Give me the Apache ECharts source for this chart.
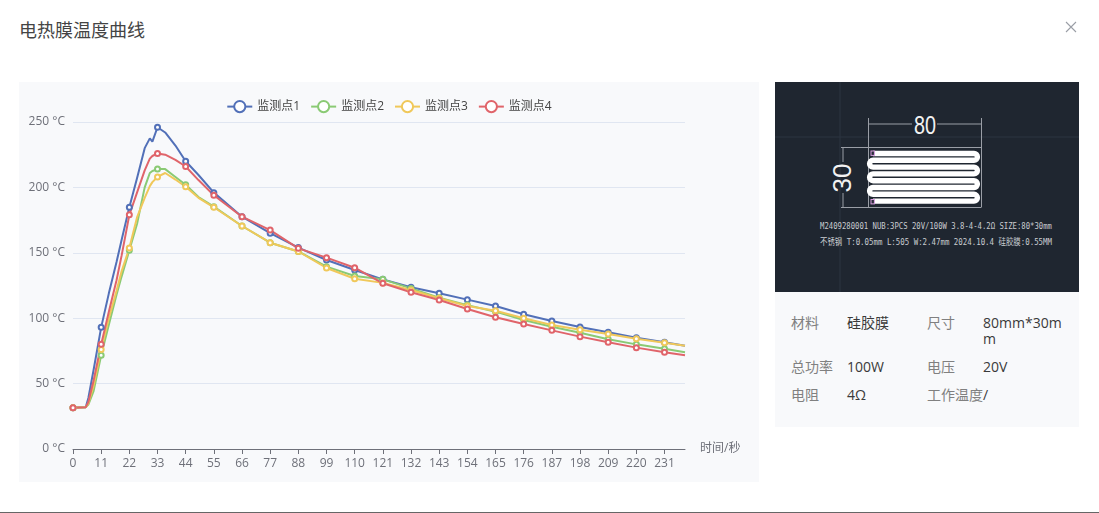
<!DOCTYPE html>
<html lang="zh">
<head>
<meta charset="utf-8">
<title>电热膜温度曲线</title>
<script src="https://cdn.jsdelivr.net/npm/echarts@6/dist/echarts.min.js"></script>
<style>
  html, body { margin: 0; padding: 0; background: #fff; }
  body { position: relative; width: 1099px; height: 513px; overflow: hidden;
         font-family: "Open Sans", "Noto Sans CJK SC", sans-serif; }
  .abs { position: absolute; }
  #heading { left: 19px; top: 18px; font-size: 18px; line-height: 24px; color: #444; }
  #close { left: 1064px; top: 20px; width: 14px; height: 14px; }
  #chartPanel { left: 19px; top: 82px; width: 740px; height: 400px; background: #f8f9fb; }
  #chart { width: 740px; height: 400px; }
  #drawing { left: 775px; top: 82px; width: 304px; height: 210px; background: #1f2630; display: block; }
  #specs { left: 775px; top: 292px; width: 304px; height: 135px; background: #f8f9fb; font-size: 14px; }
  .spec { position: absolute; line-height: 16px; white-space: nowrap; }
  .key { color: #808080; }
  .val { color: #3a3a3a; }
  #baseline { left: 0; top: 512px; width: 1099px; height: 1px; background: #666; }
</style>
</head>
<body>
<div class="abs" id="heading">电热膜温度曲线</div>
<svg class="abs" id="close" viewBox="0 0 14 14">
  <path d="M2 2 L12 12 M12 2 L2 12" stroke="#9a9ea6" stroke-width="1.1" fill="none"/>
</svg>

<div class="abs" id="chartPanel"><div id="chart"></div></div>

<svg class="abs" id="drawing" viewBox="0 0 304 210">
  <g stroke="#2c3440" stroke-width="1">
    <path d="M65 0 V210 M0 55 H304"/>
  </g>
  <!-- dimension lines -->
  <g stroke="#9a9ea6" stroke-width="1" fill="none">
    <path d="M93.5 36 V125 M206.5 36 V125"/>
    <path d="M93.5 42 H137 M162 42 H206.5"/>
    <path d="M66 65.5 H206.5 M66 125.5 H206.5"/>
    <path d="M68 66 V80 M68 111 V125"/>
  </g>
  <!-- heating track -->
  <path d="M98 71.5 H199 a3.4 3.4 0 0 1 0 6.8 H98 a3.4 3.4 0 0 0 0 6.8 H199 a3.4 3.4 0 0 1 0 6.8 H98 a3.4 3.4 0 0 0 0 6.8 H199 a3.4 3.4 0 0 1 0 6.8 H98 a3.4 3.4 0 0 0 0 6.8 H199 a3.4 3.4 0 0 1 0 6.8 H98"
        stroke="#fff" stroke-width="5.4" fill="none"/>
  <g stroke="#d9a0e0" stroke-width="1" fill="#2a2d3a">
    <rect x="96" y="69" width="3.4" height="4.4"/>
    <rect x="96" y="117.5" width="3.4" height="4.4"/>
  </g>
  <g fill="#f2f2f2" font-family="'Liberation Sans',sans-serif" text-anchor="middle">
    <text x="150" y="52" font-size="26" textLength="22" lengthAdjust="spacingAndGlyphs">80</text>
    <text x="0" y="0" font-size="26" textLength="29" lengthAdjust="spacingAndGlyphs" transform="translate(75.5 96) rotate(-90)">30</text>
  </g>
  <g fill="#c9ccd1" font-family="'DejaVu Sans Mono','Noto Sans CJK SC',monospace" font-size="9">
    <text x="45" y="147" textLength="232" lengthAdjust="spacingAndGlyphs">M2409280001 NUB:3PCS 20V/100W 3.8-4-4.2Ω SIZE:80*30mm</text>
    <text x="45" y="162.5" textLength="232" lengthAdjust="spacingAndGlyphs">不锈钢 T:0.05mm L:505 W:2.47mm 2024.10.4 硅胶膜:0.55MM</text>
  </g>
</svg>

<div class="abs" id="specs">
  <div class="spec key" style="left:16px;top:23px">材料</div>
  <div class="spec val" style="left:72px;top:23px">硅胶膜</div>
  <div class="spec key" style="left:152px;top:23px">尺寸</div>
  <div class="spec val" style="left:208px;top:23px">80mm*30m<br>m</div>
  <div class="spec key" style="left:16px;top:67px">总功率</div>
  <div class="spec val" style="left:72px;top:67px">100W</div>
  <div class="spec key" style="left:152px;top:67px">电压</div>
  <div class="spec val" style="left:208px;top:67px">20V</div>
  <div class="spec key" style="left:16px;top:95px">电阻</div>
  <div class="spec val" style="left:72px;top:95px">4Ω</div>
  <div class="spec key" style="left:152px;top:95px">工作温度</div>
  <div class="spec val" style="left:208px;top:95px">/</div>
</div>
<div class="abs" id="baseline"></div>

<script>
// Sampling times in seconds
const times = [0, 5, 6, 8, 11, 14, 17, 19, 22, 25, 28, 30, 31, 33, 36, 40, 44, 49, 55, 66, 77, 88, 99, 110, 121, 132, 143, 154, 165, 176, 187, 198, 209, 220, 231, 239];

// Temperature of each monitoring point, in °C
const point1 = [31.5, 32, 39, 60, 93, 119, 143, 160, 184.8, 207, 230, 237.5, 235, 246, 242, 232, 220, 209.5, 196, 177.6, 165, 154, 144.5, 136.9, 129.7, 123.6, 119, 114.2, 109.3, 103, 97.9, 93.3, 89.2, 85.1, 81.6, 79];
const point2 = [31.5, 32, 34, 44, 71.6, 95, 118, 132, 152, 172, 200, 211, 212.5, 214, 214, 208, 202, 192.6, 185.3, 170.5, 157.7, 151, 139.4, 132.3, 129.7, 122.8, 115.7, 110, 105, 98.6, 93.5, 88.9, 83.9, 80, 76.7, 74];
const point3 = [31.5, 32, 35, 48, 76, 100, 121, 136, 153.6, 177, 192, 201, 204, 208, 211, 206, 200.5, 192, 184.8, 170.5, 157.7, 151, 138.4, 130.2, 127, 121.6, 115.2, 109.3, 105.7, 99.9, 94.8, 91.2, 87.9, 84.3, 81.3, 79];
const point4 = [31.5, 32, 36, 52, 80, 105, 129, 148, 179, 196, 213, 222, 224, 226, 225, 221, 216, 205.6, 194, 177.6, 167.4, 153.4, 146.3, 138.6, 126.7, 119.8, 113.9, 107, 100.7, 95.6, 90.7, 85.9, 81.6, 77.5, 73.9, 71.6];

const seriesNames = ['监测点1', '监测点2', '监测点3', '监测点4'];
const seriesColors = ['#5270b8', '#8aca74', '#f0c85a', '#e0646a'];
const seriesValues = [point1, point2, point3, point4];

const TICK_STEP = 11;
const LAST_SECOND = 239;
const fontFamily = '"Open Sans", "Noto Sans CJK SC", sans-serif';

const chart = echarts.init(document.getElementById('chart'), null, { renderer: 'canvas' });
chart.setOption({
  animation: false,
  backgroundColor: 'transparent',
  textStyle: { fontFamily },
  color: seriesColors,
  legend: {
    top: 13,
    left: 'center',
    itemWidth: 25,
    itemHeight: 14,
    itemGap: 10,
    textStyle: { color: '#444', fontSize: 12, fontFamily }
  },
  grid: { left: 54, right: 74, top: 40, bottom: 33 },
  xAxis: {
    type: 'value',
    min: 0,
    max: LAST_SECOND,
    interval: TICK_STEP,
    name: '时间/秒',
    nameGap: 15,
    nameTextStyle: { color: '#6e7079', fontSize: 12, fontFamily, verticalAlign: 'middle' },
    axisLine: { show: true, lineStyle: { color: '#6e7079' } },
    axisTick: { show: true, length: 5, lineStyle: { color: '#6e7079' } },
    axisLabel: { color: '#6e7079', fontSize: 12, showMaxLabel: false, margin: 9, hideOverlap: false, fontFamily },
    splitLine: { show: false }
  },
  yAxis: {
    type: 'value',
    min: 0,
    max: 250,
    interval: 50,
    axisLine: { show: false },
    axisTick: { show: false },
    axisLabel: { color: '#6e7079', fontSize: 12, formatter: '{value} °C', margin: 8, padding: [2, 0, 0, 0], fontFamily },
    splitLine: { lineStyle: { color: '#e0e6f1' } }
  },
  series: seriesNames.map((name, i) => ({
    name,
    type: 'line',
    smooth: false,
    showAllSymbol: true,
    symbol: 'emptyCircle',
    symbolSize: (value) => (value[0] % TICK_STEP === 0 ? 5 : 0),
    lineStyle: { width: 2 },
    itemStyle: { borderWidth: 2 },
    data: times.map((t, j) => [t, seriesValues[i][j]])
  }))
});
</script>
</body>
</html>
